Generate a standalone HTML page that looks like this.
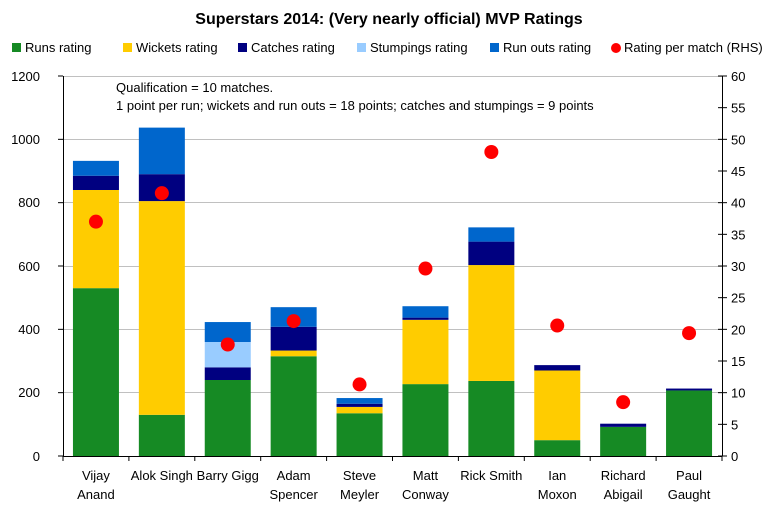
<!DOCTYPE html><html><head><style>body{margin:0;background:#fff}svg{display:block;font-family:"Liberation Sans",sans-serif}</style></head><body>
<svg width="778" height="522" xmlns="http://www.w3.org/2000/svg">
<text x="389" y="24" text-anchor="middle" font-size="16" font-weight="bold">Superstars 2014: (Very nearly official) MVP Ratings</text>
<g font-size="13">
<rect x="12" y="43" width="9" height="9" fill="#168a24"/><text x="25" y="52">Runs rating</text>
<rect x="123" y="43" width="9" height="9" fill="#ffcc00"/><text x="136" y="52">Wickets rating</text>
<rect x="238" y="43" width="9" height="9" fill="#000080"/><text x="251" y="52">Catches rating</text>
<rect x="357" y="43" width="9" height="9" fill="#99ccff"/><text x="370" y="52">Stumpings rating</text>
<rect x="490" y="43" width="9" height="9" fill="#0066cc"/><text x="503" y="52">Run outs rating</text>
<circle cx="616" cy="48" r="5" fill="#ff0000"/><text x="624" y="52">Rating per match (RHS)</text>
</g>
<g stroke="#c0c0c0" stroke-width="1">
<line x1="63" y1="76.5" x2="722" y2="76.5"/><line x1="63" y1="139.5" x2="722" y2="139.5"/><line x1="63" y1="202.5" x2="722" y2="202.5"/><line x1="63" y1="266.5" x2="722" y2="266.5"/><line x1="63" y1="329.5" x2="722" y2="329.5"/><line x1="63" y1="392.5" x2="722" y2="392.5"/>
</g>
<g font-size="13">
<text x="116" y="92">Qualification = 10 matches.</text>
<text x="116" y="110">1 point per run; wickets and run outs = 18 points; catches and stumpings = 9 points</text>
</g>
<g id="bars"></g>
<g stroke="#000" stroke-width="1">
<line x1="63.5" y1="76" x2="63.5" y2="456"/><line x1="722.5" y1="76" x2="722.5" y2="456"/><line x1="63" y1="456.5" x2="722" y2="456.5"/>
</g>
<g font-size="13" text-anchor="end">
<text x="40" y="81">1200</text><text x="40" y="144">1000</text><text x="40" y="207">800</text><text x="40" y="271">600</text><text x="40" y="334">400</text><text x="40" y="397">200</text><text x="40" y="461">0</text>
</g>
<g font-size="13" text-anchor="start" id="rhs"></g>
<g font-size="13" text-anchor="middle" id="cats"></g>
<script>
var ns="http://www.w3.org/2000/svg";
function el(t,a,txt,p){var e=document.createElementNS(ns,t);for(var k in a)e.setAttribute(k,a[k]);if(txt)e.textContent=txt;document.getElementById(p).appendChild(e);return e}
var d=[[530,840,885,885,932,37],[130,805,890,890,1037,41.5],[240,240,280,360,423,17.6],[315,333,408,408,470,21.3],[135,155,165,165,183,11.3],[227,430,437,437,473,29.6],[237,603,677,677,722,48],[50,270,287,287,287,20.6],[92,92,102,102,102,8.5],[207,207,213,213,213,19.4]];
var cols=["#168a24","#ffcc00","#000080","#99ccff","#0066cc"];
var names=[["Vijay","Anand"],["Alok Singh"],["Barry Gigg"],["Adam","Spencer"],["Steve","Meyler"],["Matt","Conway"],["Rick Smith"],["Ian","Moxon"],["Richard","Abigail"],["Paul","Gaught"]];
function y(v){return 456-v*380/1200}
d.forEach(function(r,i){var cx=63+65.9*(i+0.5),prev=0;
for(var j=0;j<5;j++){if(r[j]>prev){el("rect",{x:cx-23,y:y(r[j]),width:46,height:y(prev)-y(r[j]),fill:cols[j]},null,"bars")}prev=Math.max(prev,r[j])}
el("circle",{cx:cx,cy:456-r[5]*380/60,r:7,fill:"#ff0000"},null,"bars");
names[i].forEach(function(n,k){el("text",{x:cx,y:480+k*19},n,"cats")});
});
for(var v=0;v<=60;v+=5){var yy=456-v*380/60;el("text",{x:731,y:yy+5},String(v),"rhs");el("line",{x1:718,x2:727,y1:yy,y2:yy,stroke:"#000"},null,"rhs")}
for(var v=0;v<=1200;v+=200){el("line",{x1:58,x2:63,y1:y(v),y2:y(v),stroke:"#000"},null,"rhs")}
for(var i=0;i<=10;i++){var x=63+65.9*i;el("line",{x1:x,x2:x,y1:456,y2:461,stroke:"#000"},null,"rhs")}
</script>
</svg></body></html>
